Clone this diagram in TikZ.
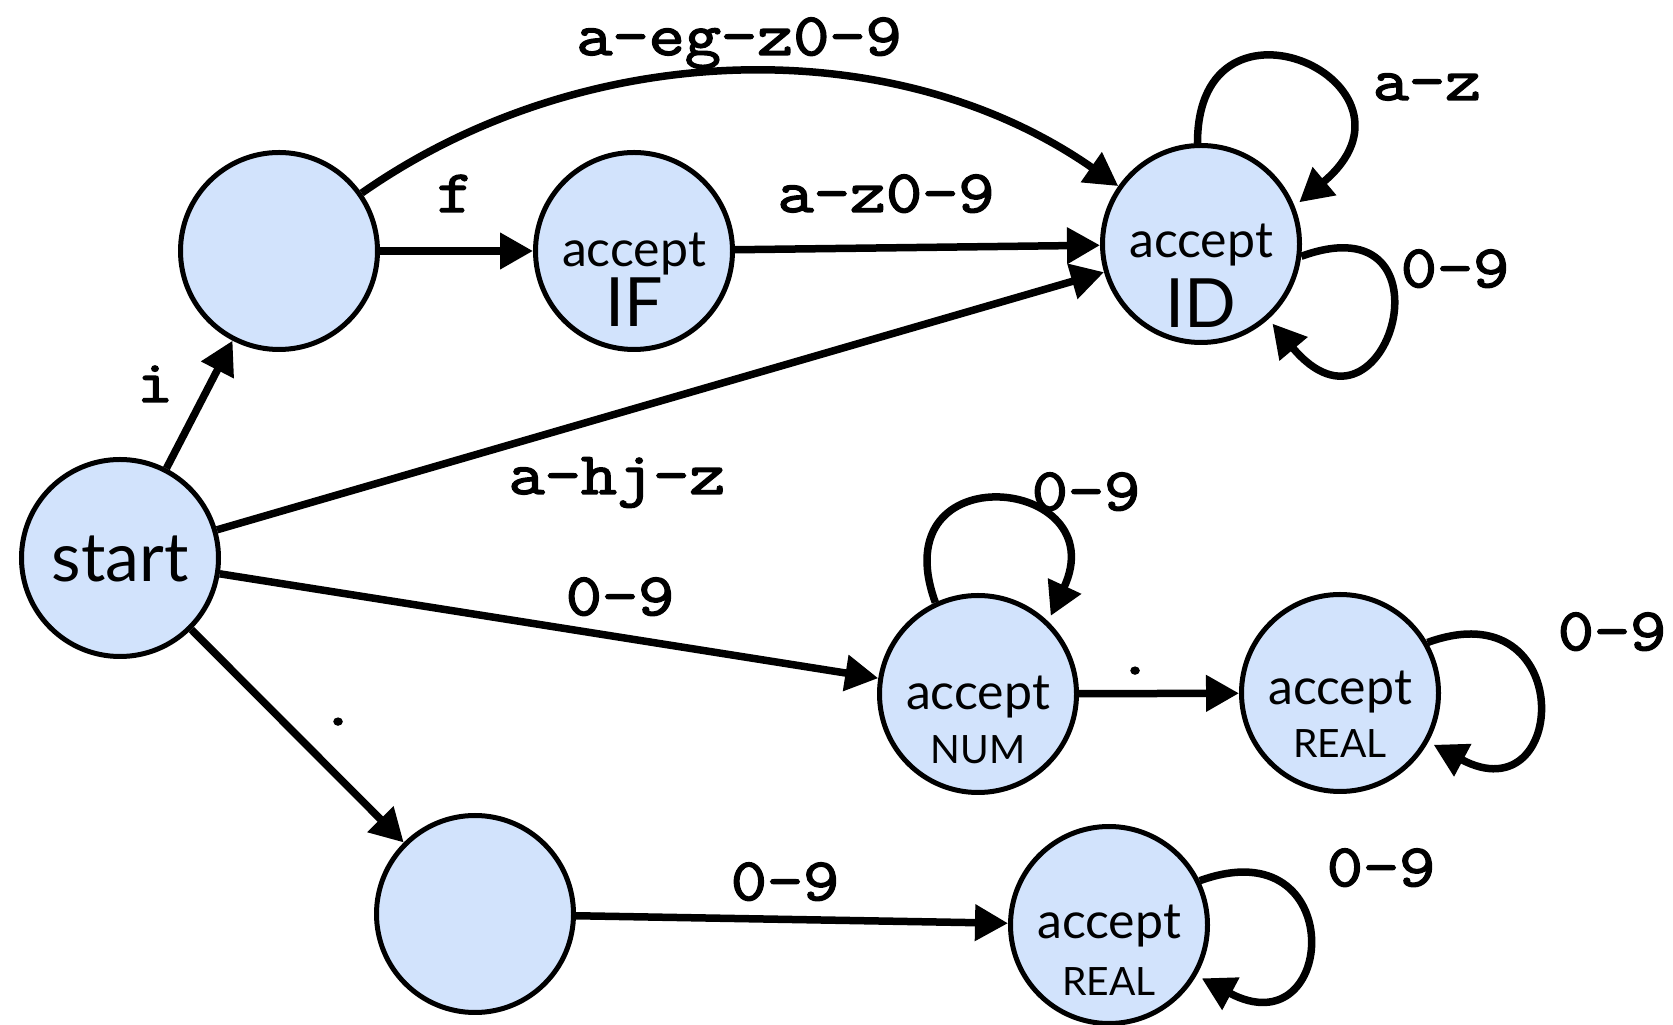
\documentclass[tikz,border=0pt]{standalone}
\usepackage{fontspec}
\usetikzlibrary{arrows.meta}
\setmainfont{Lato}
\newfontfamily\statefont{Lato}
\newfontfamily\symfont{Latin Modern Mono}[FakeStretch=1.17,FakeBold=2.5]
\definecolor{statefill}{RGB}{210,227,252}

\tikzset{
  state/.style={circle, draw=black, line width=5pt, fill=statefill,
                minimum size=197pt, inner sep=0pt},
  edge/.style={line width=7.5pt, -{Triangle[length=33pt,width=35pt]}},
  loopedge/.style={edge, shorten >=6pt},
  sym/.style={anchor=base, inner sep=0pt,
              font=\symfont\fontsize{60}{64}\selectfont},
  stbig/.style={anchor=base, inner sep=0pt,
                font=\statefont\fontsize{68}{70}\selectfont},
  stacc/.style={anchor=base, inner sep=0pt,
                font=\statefont\fontsize{50}{60}\selectfont},
  stsmall/.style={anchor=base, inner sep=0pt,
                  font=\statefont\fontsize{39}{40}\selectfont},
}

\begin{document}
\begin{tikzpicture}[x=1pt,y=1pt]
  \fill[white] (0,0) rectangle (1673,1025);
  \useasboundingbox (0,0) rectangle (1673,1025);

  % states
  \node[state] (start) at (120,467) {};
  \node[state] (q1)    at (279,774) {};
  \node[state] (IF)    at (634,774) {};
  \node[state] (ID)    at (1201,781) {};
  \node[state] (NUM)   at (978,331) {};
  \node[state] (REAL1) at (1340,332) {};
  \node[state] (q2)    at (475,111) {};
  \node[state] (REAL2) at (1109,100) {};

  % state captions
  \node[stbig]   (start-t) at (120,443) {start};
  \node[stacc]   (IF-a)    at (634,758) {accept};
  \node[stbig]   (IF-b)    at (634,698) {IF};
  \node[stacc]   (ID-a)    at (1201,767) {accept};
  \node[stbig]   (ID-b)    at (1201,697) {ID};
  \node[stacc]   (NUM-a)   at (978,315) {accept};
  \node[stsmall] (NUM-b)   at (978,261) {NUM};
  \node[stacc]   (REAL1-a) at (1340,320) {accept};
  \node[stsmall] (REAL1-b) at (1340,267) {REAL};
  \node[stacc]   (REAL2-a) at (1109,86) {accept};
  \node[stsmall] (REAL2-b) at (1109,29) {REAL};

  % transitions
  \draw[edge] (start) -- (q1);
  \draw[edge] (q1) -- (IF);
  \draw[edge] (q1) to[out=35,in=145,looseness=0.92] (ID);
  \draw[edge] (IF) -- (ID);
  \draw[edge] (start) -- (ID);
  \draw[edge] (start) -- (NUM);
  \draw[edge] (NUM) -- (REAL1);
  \draw[edge] (start) -- (q2);
  \draw[edge] (q2) -- (REAL2);

  % self loops
  \draw[loopedge] (ID.92) to[out=90,in=40,out distance=170pt,in distance=190pt] (ID.22);
  \draw[loopedge] (ID.-7) to[out=20,in=-50,out distance=170pt,in distance=185pt] (ID.-48);
  \draw[loopedge] (NUM.115) to[out=110,in=65,distance=160pt] (NUM.46);
  \draw[loopedge] (REAL1.30) to[out=20,in=-28,distance=160pt] (REAL1.-29);
  \draw[loopedge] (REAL2.26) to[out=20,in=-28,distance=160pt] (REAL2.-30);

  % transition labels
  \node[sym] (l-i)     at (155,623)  {i};
  \node[sym] (l-f)     at (455,813)  {f};
  \node[sym] (l-aeg)   at (739,970)  {a-eg-z0-9};
  \node[sym] (l-az09)  at (886,813)  {a-z0-9};
  \node[sym] (l-ahj)   at (617,531)  {a-hj-z};
  \node[sym] (l-az)    at (1427,925) {a-z};
  \node[sym] (l-id09)  at (1455,738) {0-9};
  \node[sym] (l-num09) at (1086,515) {0-9};
  \node[sym] (l-s09)   at (620,410)  {0-9};
  \node[sym] (l-dot1)  at (338,300)  {.};
  \node[sym] (l-dot2)  at (1135,351) {.};
  \node[sym] (l-r109)  at (1612,375) {0-9};
  \node[sym] (l-r209)  at (1381,139) {0-9};
  \node[sym] (l-q209)  at (785,125)  {0-9};
\end{tikzpicture}
\end{document}
